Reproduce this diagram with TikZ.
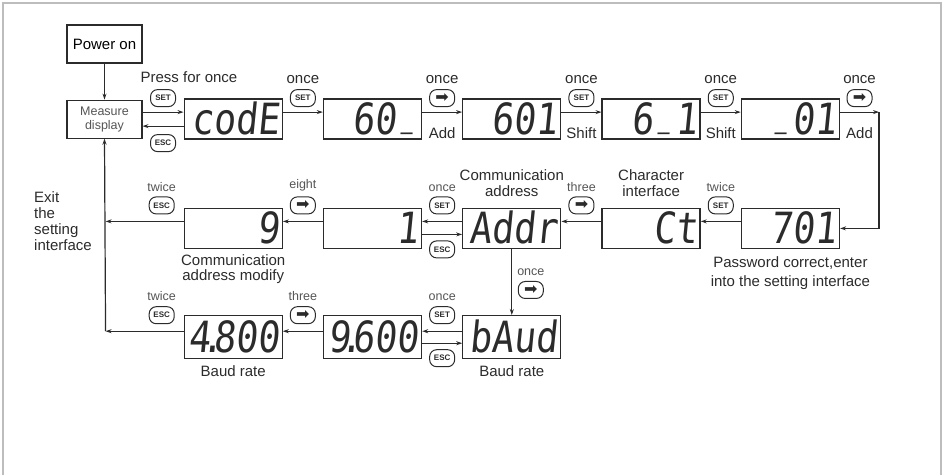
\documentclass[tikz,border=0pt]{standalone}
\usepackage{fontspec}
\setmainfont{Liberation Sans}
\newfontfamily\segfont[FakeStretch=0.85, FakeSlant=0.1]{DejaVu Sans Mono}
\newfontfamily\symfont{DejaVu Sans}
\usepackage{tikz}
\usetikzlibrary{arrows.meta, positioning}
\definecolor{ink}{HTML}{2B2B2B}
\definecolor{softink}{HTML}{555555}
\definecolor{framegray}{HTML}{BDBDBD}
\newcommand\segunder{\makebox[0pt][l]{\hspace{.12em}\raisebox{.24em}{\scalebox{.55}[1]{\_}}}\hphantom{0}}
\newcommand\segdot{\kern-.23em.\kern-.23em}

\begin{document}
\begin{tikzpicture}[x=1pt, y=-1pt,
        lcd/.style={draw=ink, line width=1.3pt, minimum width=98pt, minimum height=40pt, text width=92pt, align=right, inner xsep=3pt, inner ysep=0pt, text height=31pt, text depth=0pt, font=\segfont\fontsize{43}{43}\selectfont, text=ink},
        plainbox/.style={draw=ink, line width=1.1pt, minimum width=75pt, minimum height=38pt, align=center, inner sep=1pt},
        btn/.style={draw=ink, line width=1pt, rounded corners=7pt, minimum width=25pt, minimum height=17pt, inner sep=0pt, font=\bfseries\fontsize{8}{8}\selectfont, text=ink},
        arrowbtn/.style={btn, font=\symfont\fontsize{16}{16}\selectfont},
        lbl/.style={font=\fontsize{15}{16}\selectfont, text=ink, inner sep=1pt},
        small/.style={font=\fontsize{12.5}{14}\selectfont, text=softink, inner sep=1pt},
        arrow/.style={draw=ink, line width=1.2pt, -{Stealth[length=6pt, width=4pt]}}
    ]
    \useasboundingbox (0,0) rectangle (944,475);
    \draw[framegray, line width=1.2pt] (3,475) -- (3,3) -- (941,3) -- (941,475);

    \node[plainbox, font=\fontsize{15}{17}\selectfont] (power) at (104.5,44) {Power on};
    \node[plainbox, below=36pt of power, font=\fontsize{12.5}{14}\selectfont, text=softink] (measure) {Measure\\display};
    \node[lcd, right=41pt of measure] (code) {codE};
    \node[lcd, right=40pt of code] (sixty) {60\segunder};
    \node[lcd, right=40pt of sixty] (sixone) {601};
    \node[lcd, right=40pt of sixone] (sixbar) {6\segunder1};
    \node[lcd, right=40pt of sixbar] (barone) {\segunder01};

    \node[lcd, below=68pt of barone] (pass) {701};
    \node[lcd, left=40pt of pass] (chars) {Ct};
    \node[lcd, left=40pt of chars] (addr) {Addr};
    \node[lcd, left=40pt of addr] (one) {1};
    \node[lcd, left=40pt of one] (nine) {9};

    \node[lcd, below=66pt of addr, minimum height=43pt] (baud) {bAud};
    \node[lcd, left=40pt of baud, minimum height=43pt] (ninesix) {9\segdot600};
    \node[lcd, left=40pt of ninesix, minimum height=43pt] (foureight) {4\segdot800};

    \node[lbl] (pressonce) at (189,77) {Press for once};
    \node[lbl, align=left, anchor=north west] (exittext) at (33,190) {Exit\\the\\setting\\interface};
    \node[lbl, above=10pt of chars, align=center] (charstext) {Character\\interface};
    \node[lbl, above=10pt of addr, align=center] (addrtext) {Communication\\address};
    \node[lbl, below=4pt of nine, align=center, font=\fontsize{15}{15.5}\selectfont] (ninetext) {Communication\\address modify};
    \node[lbl, below=6pt of pass, align=center, font=\fontsize{15}{19}\selectfont] (passtext) {Password correct,enter\\into the setting interface};
    \node[lbl, below=5pt of foureight] (baudfour) {Baud rate};
    \node[lbl, below=5pt of baud] (baudbaud) {Baud rate};

    \draw[arrow] (power) -- (measure);
    \draw[arrow] ([yshift=7pt]measure.east) -- node[btn, above=5pt] (setstart) {SET} ([yshift=7pt]code.west);
    \draw[arrow] ([yshift=-7pt]code.west) -- node[btn, below=8pt] (escstart) {ESC} ([yshift=-7pt]measure.east);

    \draw[arrow] ([yshift=7pt]code.east) -- node[btn, above=5pt] (setcode) {SET} ([yshift=7pt]sixty.west);
    \node[lbl, above=4pt of setcode] (oncecode) {once};
    \draw[arrow] ([yshift=7pt]sixty.east) -- node[arrowbtn, above=5pt] (addsixty) {➡} node[lbl, below=14pt] (addone) {Add} ([yshift=7pt]sixone.west);
    \node[lbl, above=4pt of addsixty] (oncesixty) {once};
    \draw[arrow] ([yshift=7pt]sixone.east) -- node[btn, above=5pt] (setsixone) {SET} node[lbl, below=14pt] (shiftone) {Shift} ([yshift=7pt]sixbar.west);
    \node[lbl, above=4pt of setsixone] (oncesixone) {once};
    \draw[arrow] ([yshift=7pt]sixbar.east) -- node[btn, above=5pt] (setsixbar) {SET} node[lbl, below=14pt] (shifttwo) {Shift} ([yshift=7pt]barone.west);
    \node[lbl, above=4pt of setsixbar] (oncesixbar) {once};
    \coordinate (turn) at ([xshift=39pt, yshift=7pt]barone.east);
    \draw[arrow] ([yshift=7pt]barone.east) -- node[arrowbtn, above=5pt] (addbar) {➡} node[lbl, below=14pt] (addtwo) {Add} (turn);
    \node[lbl, above=4pt of addbar] (oncebar) {once};
    \draw[arrow] (turn) |- (pass.east);

    \draw[arrow] ([yshift=7pt]pass.west) -- node[btn, above=7pt] (setpass) {SET} ([yshift=7pt]chars.east);
    \node[small, above=4pt of setpass] (twicepass) {twice};
    \draw[arrow] ([yshift=7pt]chars.west) -- node[arrowbtn, above=7pt] (threechars) {➡} ([yshift=7pt]addr.east);
    \node[small, above=4pt of threechars] (threelbl) {three};
    \draw[arrow] ([yshift=7pt]addr.west) -- node[btn, above=7pt] (setaddr) {SET} ([yshift=7pt]one.east);
    \node[small, above=4pt of setaddr] (onceaddr) {once};
    \draw[arrow] ([yshift=-6pt]one.east) -- node[btn, below=6pt] (escaddr) {ESC} ([yshift=-6pt]addr.west);
    \draw[arrow] ([yshift=7pt]one.west) -- node[arrowbtn, above=7pt] (eightbtn) {➡} ([yshift=7pt]nine.east);
    \node[small, above=4pt of eightbtn] (eightlbl) {eight};
    \coordinate (nineexit) at ([xshift=-78pt, yshift=7pt]nine.west);
    \draw[arrow] ([yshift=7pt]nine.west) -- node[btn, pos=0.28, above=7pt] (escnine) {ESC} (nineexit);
    \node[small, above=4pt of escnine] (twicenine) {twice};

    \draw[arrow] (addr) -- node[arrowbtn, pos=0.62, right=6pt] (baudbtn) {➡} (baud);
    \node[small, above=4pt of baudbtn] (oncebaud) {once};

    \draw[arrow] ([yshift=6pt]baud.west) -- node[btn, above=7pt] (setbaud) {SET} ([yshift=6pt]ninesix.east);
    \node[small, above=4pt of setbaud] (oncebaudset) {once};
    \draw[arrow] ([yshift=-6pt]ninesix.east) -- node[btn, below=6pt] (escbaud) {ESC} ([yshift=-6pt]baud.west);
    \draw[arrow] ([yshift=6pt]ninesix.west) -- node[arrowbtn, above=7pt] (threebtn) {➡} ([yshift=6pt]foureight.east);
    \node[small, above=4pt of threebtn] (threebaud) {three};
    \coordinate (exitcorner) at ([xshift=-78pt, yshift=6pt]foureight.west);
    \draw[arrow] ([yshift=6pt]foureight.west) -- node[btn, pos=0.28, above=7pt] (escfour) {ESC} (exitcorner);
    \node[small, above=4pt of escfour] (twicefour) {twice};
    \draw[arrow] (exitcorner) -- (measure.south);
\end{tikzpicture}
\end{document}
